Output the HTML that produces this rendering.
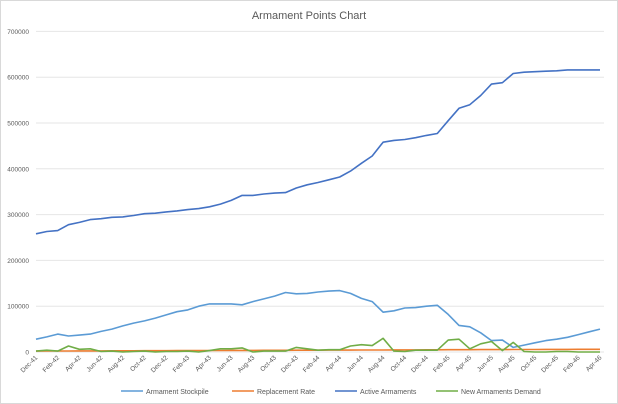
<!DOCTYPE html>
<html><head><meta charset="utf-8"><style>
html,body{margin:0;padding:0;background:#fff}
body{width:618px;height:404px;overflow:hidden}
svg{display:block;font-family:"Liberation Sans",sans-serif}
</style></head><body>
<svg id="c" width="618" height="404" xmlns="http://www.w3.org/2000/svg">
<rect x="0.5" y="0.5" width="617" height="403" fill="#fff" stroke="#d9d9d9"/>
<text x="309" y="19" text-anchor="middle" font-size="11" fill="#595959">Armament Points Chart</text>
<g id="grid"></g><g id="lines"></g><g id="xl"></g>
<g font-size="7" fill="#595959">
<line x1="121" y1="391" x2="143" y2="391" stroke="#5b9bd5" stroke-width="1.5"/><text x="146" y="394">Armament Stockpile</text>
<line x1="232" y1="391" x2="254" y2="391" stroke="#ed7d31" stroke-width="1.5"/><text x="257" y="394">Replacement Rate</text>
<line x1="335" y1="391" x2="357" y2="391" stroke="#4472c4" stroke-width="1.5"/><text x="360" y="394">Active Armaments</text>
<line x1="436" y1="391" x2="458" y2="391" stroke="#70ad47" stroke-width="1.5"/><text x="461" y="394">New Armaments Demand</text>
</g>
</svg>
<script>
var NS="http://www.w3.org/2000/svg";
function el(t,a,p,txt){var e=document.createElementNS(NS,t);for(var k in a)e.setAttribute(k,a[k]);if(txt!=null)e.textContent=txt;document.getElementById(p).appendChild(e);}
var y0=352,py=0.458,x0=36,x1=600;
for(var i=0;i<=7;i++){var y=y0-i*100*py;el('line',{x1:36,x2:604,y1:y,y2:y,stroke:'#e6e6e6','stroke-width':1},'grid');
el('text',{x:29,y:y+2.5,'text-anchor':'end','font-size':6.5,fill:'#595959'},'grid',String(i*100000));}
var active=[258,263,265,278,283,289,291,294,295,298,302,303,306,308,311,313,317,323,331,342,342,345,347,348,358,365,370,376,382,395,412,428,458,462,464,468,473,477,505,532,540,560,585,588,608,611,612,613,614,616,616,616,616];
var stock=[28,33,39,35,37,39,45,50,57,63,68,74,81,88,92,100,105,105,105,103,110,116,122,130,127,128,131,133,134,128,117,110,87,90,96,97,100,102,82,58,55,42,25,26,10,15,20,25,28,32,38,44,50];
var dem=[2,4,2,13,6,7,1,2,0,1,2,0,1,1,2,0,3,7,7,9,0,2,2,2,10,7,4,5,5,13,16,14,30,2,1,4,4,4,26,28,7,18,23,3,21,1,0,0,1,1,0,0,0];
var n=53,dx=(x1-x0)/(n-1);var rep=[];for(var i=0;i<n;i++)rep.push(2+4*i/(n-1));
function pl(d,c){var p=d.map(function(v,i){return (x0+i*dx).toFixed(1)+','+(y0-v*py).toFixed(1)}).join(' ');
el('polyline',{points:p,fill:'none',stroke:c,'stroke-width':1.6,'stroke-linejoin':'round'},'lines');}
pl(stock,'#5b9bd5');pl(rep,'#ed7d31');pl(active,'#4472c4');pl(dem,'#70ad47');
var m=['Dec','Feb','Apr','Jun','Aug','Oct'];
for(var i=0;i<n;i+=2){var mi=(11+i)%12,yr=41+Math.floor((11+i)/12);var nm=['Jan','Feb','Mar','Apr','May','Jun','Jul','Aug','Sep','Oct','Nov','Dec'][mi];
var x=x0+i*dx+2,y=358;el('text',{x:x,y:y,'text-anchor':'end','font-size':6.5,fill:'#595959',transform:'rotate(-45 '+x+' '+y+')'},'xl',nm+'-'+yr);}
</script>
</body></html>
